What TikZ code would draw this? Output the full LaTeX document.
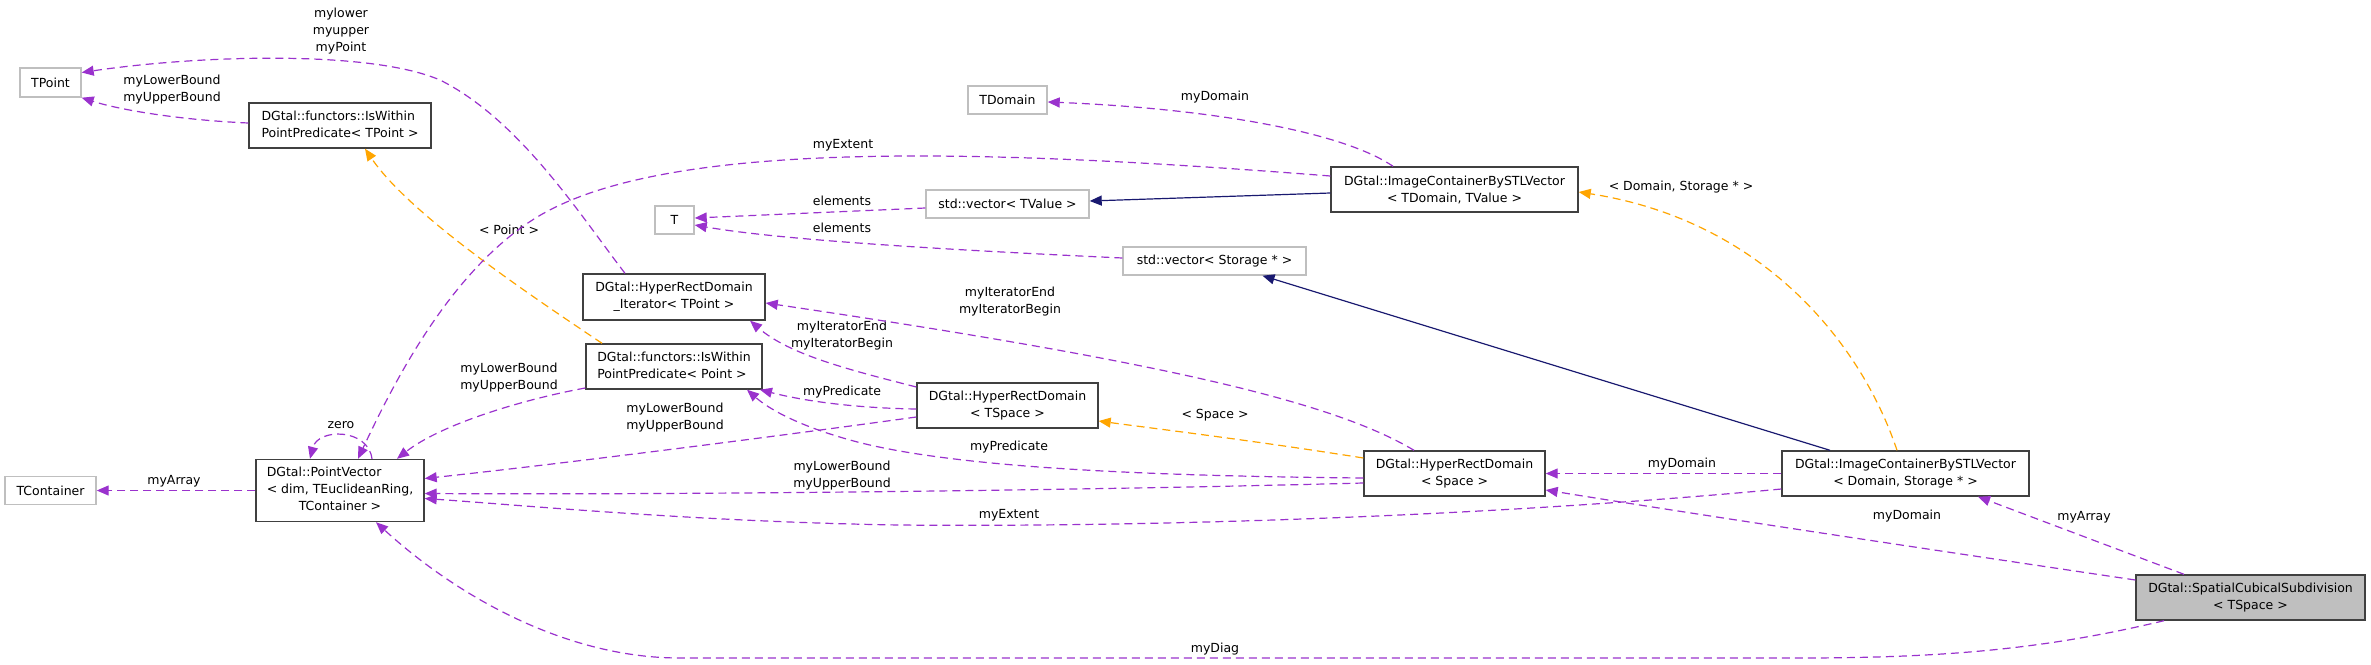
\documentclass[tikz,border=0pt]{standalone}
\usepackage{fontspec}
\setmainfont{DejaVu Sans}
\usetikzlibrary{arrows.meta,calc}
\definecolor{edgep}{HTML}{9A32CD}
\definecolor{edgeo}{HTML}{FFA500}
\definecolor{edgeb}{HTML}{191970}
\definecolor{boxdark}{HTML}{404040}
\definecolor{boxgray}{HTML}{BFBFBF}
\begin{document}
\begin{tikzpicture}[x=1pt,y=-1pt,
  every node/.style={font=\fontsize{12.5}{17}\selectfont, inner sep=0pt},
  clsbox/.style={draw=boxdark, line width=1.4pt, fill=white, rectangle, align=center},
  extbox/.style={draw=boxgray, line width=1.4pt, fill=white, rectangle, align=center},
  memberedge/.style={edgep, line width=1.2pt, dash pattern=on 8pt off 5pt, -{Triangle[length=12pt,width=10pt]}},
  tmpledge/.style={edgeo, line width=1.2pt, dash pattern=on 8pt off 5pt, -{Triangle[length=12pt,width=10pt]}},
  inhedge/.style={edgeb, line width=1.2pt, -{Triangle[length=12pt,width=10pt]}},
  lblnode/.style={align=center}]
\useasboundingbox (0,0) rectangle (2371,664);

% nodes
\node[extbox, minimum width=61pt, minimum height=29pt] (tpoint) at (50.5,82.5) {TPoint};
\node[clsbox, minimum width=182pt, minimum height=45pt] (iswT) at (340,125.5) {\begin{tabular}{@{}l@{}}DGtal::functors::IsWithin\\PointPredicate< TPoint >\end{tabular}};
\node[extbox, minimum width=79pt, minimum height=28pt] (tdomain) at (1007.5,100) {TDomain};
\node[clsbox, minimum width=247pt, minimum height=45pt] (ictv) at (1454.5,189.5) {DGtal::ImageContainerBySTLVector\\< TDomain, TValue >};
\node[extbox, minimum width=39pt, minimum height=28pt] (T) at (674.5,220) {T};
\node[extbox, minimum width=163pt, minimum height=28pt] (vectv) at (1007.5,204) {std::vector< TValue >};
\node[extbox, minimum width=183pt, minimum height=28pt] (vecs) at (1214.5,261) {std::vector< Storage * >};
\node[clsbox, minimum width=182pt, minimum height=46pt] (hrdit) at (674,297) {DGtal::HyperRectDomain\\\_Iterator< TPoint >};
\node[clsbox, minimum width=176pt, minimum height=45pt] (iswP) at (674,366.5) {\begin{tabular}{@{}l@{}}DGtal::functors::IsWithin\\PointPredicate< Point >\end{tabular}};
\node[clsbox, minimum width=181pt, minimum height=45pt] (hrdt) at (1007.5,405.5) {DGtal::HyperRectDomain\\< TSpace >};
\node[extbox, minimum width=91pt, minimum height=28pt] (tcont) at (50.5,490.5) {TContainer};
\node[clsbox, minimum width=168pt, minimum height=62pt] (pv) at (340,490.5) {\begin{tabular}{@{}c@{}}\multicolumn{1}{@{}l@{}}{DGtal::PointVector}\\< dim, TEuclideanRing,\\TContainer >\end{tabular}};
\node[clsbox, minimum width=181pt, minimum height=45pt] (hrds) at (1454.5,473.5) {DGtal::HyperRectDomain\\< Space >};
\node[clsbox, minimum width=247pt, minimum height=45pt] (ics) at (1905.5,473.5) {DGtal::ImageContainerBySTLVector\\< Domain, Storage * >};
\node[clsbox, fill=boxgray, minimum width=229pt, minimum height=45pt] (scs) at (2250.5,597.5) {DGtal::SpatialCubicalSubdivision\\< TSpace >};

% edges
\draw[memberedge] ($(hrdit.north)+(-49,0)$) .. controls (580,215) and (520,120) .. (440,80) .. controls (370,50) and (200,55) .. ($(tpoint.east)+(0,-10)$);
\node[lblnode] at (341,31) {mylower\\myupper\\myPoint};

\draw[memberedge] ($(iswT.west)+(0,-2.5)$) .. controls (180,120) and (120,110) .. (tpoint.south east);
\node[lblnode] at (172,90) {myLowerBound\\myUpperBound};

\draw[tmpledge] ($(iswP.north)+(-72,0)$) .. controls (530,295) and (410,215) .. ($(iswT.south)+(25,0)$);
\node[lblnode] at (509,230) {< Point >};

\draw[memberedge] ($(ictv.north)+(-61.5,0)$) .. controls (1340,130) and (1200,108) .. ($(tdomain.east)+(0,2)$);
\node[lblnode] at (1215,97) {myDomain};

\draw[memberedge] ($(ictv.west)+(0,-13.5)$) .. controls (1000,150) and (700,140) .. (560,205) .. controls (460,250) and (395,380) .. ($(pv.north)+(18,0)$);
\node[lblnode] at (843,145) {myExtent};

\draw[memberedge] ($(vectv.west)+(0,4)$) -- ($(T.east)+(0,-2)$);
\node[lblnode] at (842,201) {elements};

\draw[memberedge] ($(vecs.west)+(0,-3)$) .. controls (950,250) and (780,240) .. ($(T.east)+(0,5)$);
\node[lblnode] at (842,228) {elements};

\draw[inhedge] ($(ictv.west)+(0,3.5)$) -- ($(vectv.east)+(0,-3)$);
\draw[inhedge] ($(ics.north)+(-75.5,0)$) -- ($(vecs.south)+(48,0)$);

\draw[tmpledge] ($(ics.north)+(-8.5,0)$) .. controls (1860,340) and (1760,220) .. ($(ictv.east)+(0,2.5)$);
\node[lblnode] at (1681,187) {< Domain, Storage * >};

\draw[memberedge] ($(hrdt.west)+(0,-18.5)$) .. controls (850,370) and (790,355) .. ($(hrdit.south)+(76,0)$);
\node[lblnode] at (842,335.5) {myIteratorEnd\\myIteratorBegin};

\draw[memberedge] ($(hrds.north)+(-40.5,0)$) .. controls (1330,400) and (1150,360) .. ($(hrdit.east)+(0,6)$);
\node[lblnode] at (1010,302) {myIteratorEnd\\myIteratorBegin};

\draw[memberedge] ($(hrdt.west)+(0,3.5)$) .. controls (850,408) and (800,400) .. ($(iswP.south)+(86,0)$);
\node[lblnode] at (842,392) {myPredicate};

\draw[memberedge] ($(hrds.west)+(0,4.5)$) .. controls (1150,476) and (950,468) .. (850,440) .. controls (800,426) and (770,410) .. ($(iswP.south)+(73,0)$);
\node[lblnode] at (1009,447) {myPredicate};

\draw[memberedge] ($(iswP.west)+(0,21.5)$) .. controls (520,400) and (440,425) .. ($(pv.north)+(57,0)$);
\node[lblnode] at (509,377.5) {myLowerBound\\myUpperBound};

\draw[memberedge] ($(hrdt.west)+(0,11.5)$) .. controls (750,440) and (550,465) .. ($(pv.east)+(0,-12)$);
\node[lblnode] at (675,418) {myLowerBound\\myUpperBound};

\draw[memberedge] ($(hrds.west)+(0,9.5)$) .. controls (1100,490) and (700,495) .. ($(pv.east)+(0,3)$);
\node[lblnode] at (842,476) {myLowerBound\\myUpperBound};

\draw[memberedge] ($(ics.west)+(0,15.5)$) .. controls (1450,520) and (1100,527) .. (900,525) .. controls (700,522) and (520,505) .. ($(pv.east)+(0,8)$);
\node[lblnode] at (1009,515) {myExtent};

\draw[tmpledge] ($(hrds.west)+(0,-15.5)$) .. controls (1250,440) and (1150,428) .. ($(hrdt.east)+(0,15.5)$);
\node[lblnode] at (1215,415) {< Space >};

\draw[memberedge] (ics.west) -- (hrds.east);
\node[lblnode] at (1682,464) {myDomain};

\draw[memberedge] ($(scs.west)+(0,-17.5)$) .. controls (1900,545) and (1700,515) .. ($(hrds.east)+(0,16.5)$);
\node[lblnode] at (1907,516) {myDomain};

\draw[memberedge] ($(scs.north)+(-66.5,0)$) -- ($(ics.south)+(72.5,0)$);
\node[lblnode] at (2084,517) {myArray};

\draw[memberedge] ($(scs.south)+(-86.5,0)$) .. controls (2050,648) and (1950,658) .. (1800,658) -- (680,658) .. controls (560,658) and (450,590) .. ($(pv.south)+(36,0)$);
\node[lblnode] at (1215,649) {myDiag};

\draw[memberedge] (pv.west) -- (tcont.east);
\node[lblnode] at (174,481) {myArray};

\draw[memberedge] ($(pv.north)+(32,0)$) .. controls (368,428) and (318,428) .. ($(pv.north)+(-30,0)$);
\node[lblnode] at (341,425) {zero};
\end{tikzpicture}
\end{document}
